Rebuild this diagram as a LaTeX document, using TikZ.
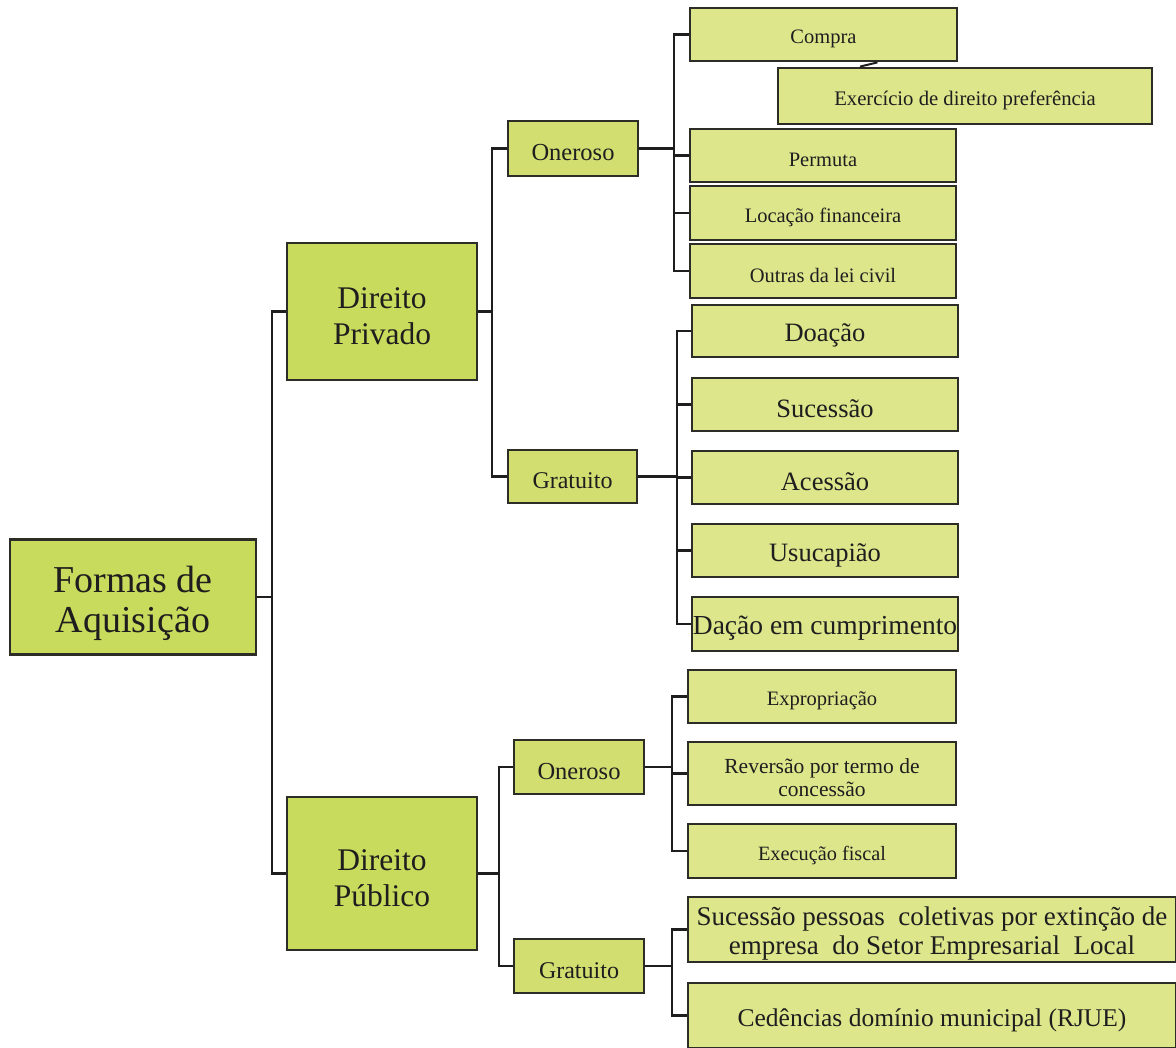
\documentclass[tikz,border=0pt]{standalone}
\usepackage{fontspec}
\setmainfont{Liberation Serif}
\usetikzlibrary{calc}
\definecolor{boxmain}{RGB}{201,219,92}
\definecolor{boxmid}{RGB}{210,223,112}
\definecolor{boxleaf}{RGB}{222,230,140}
\definecolor{edge}{RGB}{45,45,40}
\definecolor{ink}{RGB}{30,30,30}
\newcommand{\fs}[2]{\fontsize{#1}{#2}\selectfont}
\begin{document}
\begin{tikzpicture}[x=1pt,y=-1pt,
  box/.style={draw=edge, line width=2.8pt, rectangle, inner sep=0pt},
  mainbox/.style={box, fill=boxmain},
  midbox/.style={box, fill=boxmid},
  leafbox/.style={box, fill=boxleaf},
  lbl/.style={text=ink, align=center, inner sep=0pt, yshift=-4.5pt},
  link/.style={draw=ink, line width=2.8pt}]
\useasboundingbox (0,0) rectangle (1176,1048);

% root and the two branches of law
\node[mainbox, minimum width=246, minimum height=115,
  label={[lbl, yshift=-1.5pt, font=\fs{38}{40}]center:{Formas de\\Aquisição}}] (formas) at (133,597) {};
\node[mainbox, minimum width=190, minimum height=137,
  label={[lbl, font=\fs{31.5}{36}]center:{Direito\\Privado}}] (dpriv) at (382,311.5) {};
\node[mainbox, minimum width=190, minimum height=153,
  label={[lbl, font=\fs{31.5}{36}]center:{Direito\\Público}}] (dpub) at (382,873.5) {};

% second level
\node[midbox, minimum width=130, minimum height=55,
  label={[lbl, font=\fs{24.5}{26}]center:Oneroso}] (on1) at (573,148.5) {};
\node[midbox, minimum width=129, minimum height=53,
  label={[lbl, font=\fs{24}{26}]center:Gratuito}] (gr1) at (572.5,476.5) {};
\node[midbox, minimum width=130, minimum height=54,
  label={[lbl, font=\fs{24.5}{26}]center:Oneroso}] (on2) at (579,767) {};
\node[midbox, minimum width=130, minimum height=54,
  label={[lbl, font=\fs{24}{26}]center:Gratuito}] (gr2) at (579,966) {};

% private law, onerous
\node[leafbox, minimum width=267, minimum height=53,
  label={[lbl, font=\fs{20.5}{23}]center:Compra}] (compra) at (823.5,34.5) {};
\node[leafbox, minimum width=374, minimum height=56,
  label={[lbl, font=\fs{20.7}{23}]center:Exercício de direito preferência}] (exerc) at (965,96) {};
\node[leafbox, minimum width=266, minimum height=53,
  label={[lbl, font=\fs{20.5}{23}]center:Permuta}] (permuta) at (823,155.5) {};
\node[leafbox, minimum width=266, minimum height=54,
  label={[lbl, font=\fs{20.5}{23}]center:Locação financeira}] (locacao) at (823,213) {};
\node[leafbox, minimum width=266, minimum height=54,
  label={[lbl, font=\fs{20.5}{23}]center:Outras da lei civil}] (outras) at (823,271) {};

% private law, free
\node[leafbox, minimum width=266, minimum height=52,
  label={[lbl, font=\fs{26.5}{28}]center:Doação}] (doacao) at (825,331) {};
\node[leafbox, minimum width=266, minimum height=53,
  label={[lbl, font=\fs{26.5}{28}]center:Sucessão}] (sucessao) at (825,404.5) {};
\node[leafbox, minimum width=266, minimum height=53,
  label={[lbl, font=\fs{26.5}{28}]center:Acessão}] (acessao) at (825,477.5) {};
\node[leafbox, minimum width=266, minimum height=53,
  label={[lbl, font=\fs{26.5}{28}]center:Usucapião}] (usucapiao) at (825,550.5) {};
\node[leafbox, minimum width=266, minimum height=54,
  label={[lbl, font=\fs{27.5}{28}]center:Dação em cumprimento}] (dacao) at (825,624) {};

% public law, onerous
\node[leafbox, minimum width=268, minimum height=53,
  label={[lbl, font=\fs{20.5}{23}]center:Expropriação}] (exprop) at (822,696.5) {};
\node[leafbox, minimum width=268, minimum height=63,
  label={[lbl, font=\fs{21.5}{23}]center:{Reversão por termo de\\concessão}}] (revers) at (822,773.5) {};
\node[leafbox, minimum width=268, minimum height=54,
  label={[lbl, font=\fs{20.3}{23}]center:Execução fiscal}] (exec) at (822,851) {};

% public law, free
\node[leafbox, minimum width=488, minimum height=65,
  label={[lbl, font=\fs{27}{29}]center:{Sucessão pessoas\ \ coletivas por extinção de\\empresa\ \ do Setor Empresarial\ \ Local}}] (sucpes) at (932,929.5) {};
\node[leafbox, minimum width=488, minimum height=65,
  label={[lbl, font=\fs{25.5}{29}]center:Cedências domínio municipal (RJUE)}] (cedenc) at (932,1015.5) {};

% trunk positions
\coordinate (t0) at (272,597);
\coordinate (t1) at (492,311.5);
\coordinate (t2) at (499,873.5);
\coordinate (t3) at (674,148.5);
\coordinate (t4) at (677,476.5);
\coordinate (t5) at (672,767);
\coordinate (t6) at (672,966);

% root to branches
\draw[link] (formas.east) -- (t0);
\draw[link] (dpriv.west) -| (t0) |- (dpub.west);
% branches to second level
\draw[link] (dpriv.east) -- (t1);
\draw[link] (on1.west) -| (t1) |- (gr1.west);
\draw[link] (dpub.east) -- (t2);
\draw[link] (on2.west) -| (t2) |- (gr2.west);
% onerous private
\draw[link] (on1.east) -- (t3);
\draw[link] (compra.west) -| (t3) |- (outras.west);
\draw[link] (t3 |- permuta.west) -- (permuta.west);
\draw[link] (t3 |- locacao.west) -- (locacao.west);
\draw[link, line width=2pt] ($(compra.south)+(54,0)$) -- ($(exerc.north)+(-105,0)$);
% free private
\draw[link] (gr1.east) -- (t4);
\draw[link] (doacao.west) -| (t4) |- (dacao.west);
\draw[link] (t4 |- sucessao.west) -- (sucessao.west);
\draw[link] (t4 |- acessao.west) -- (acessao.west);
\draw[link] (t4 |- usucapiao.west) -- (usucapiao.west);
% onerous public
\draw[link] (on2.east) -- (t5);
\draw[link] (exprop.west) -| (t5) |- (exec.west);
\draw[link] (t5 |- revers.west) -- (revers.west);
% free public
\draw[link] (gr2.east) -- (t6);
\draw[link] (sucpes.west) -| (t6) |- (cedenc.west);
\end{tikzpicture}
\end{document}
